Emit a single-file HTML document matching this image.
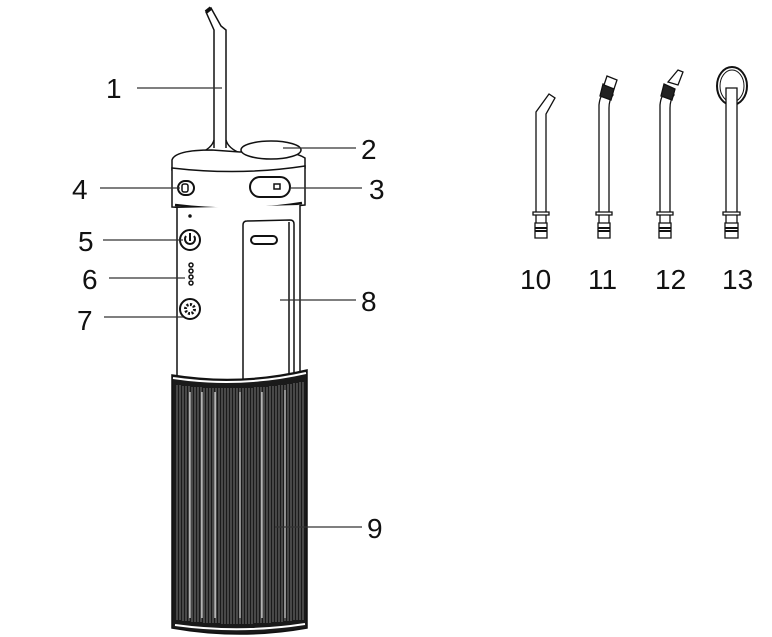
<!DOCTYPE html>
<html><head><style>
html,body{margin:0;padding:0;background:#fff;}
svg{display:block;}
text{font-family:"Liberation Sans",sans-serif;font-size:28px;fill:#111;}
</style></head><body>
<svg width="772" height="637" viewBox="0 0 772 637" xmlns="http://www.w3.org/2000/svg">
<g fill="none" stroke="#111" stroke-width="1.5">
<path d="M214,148 L214,30 L206,12 L211,8 L221,26 L226,30 L226,148" fill="#fff"/>
<path d="M206,12 L211,8" stroke-width="4"/>
<path d="M200,153 Q212,148 214,140 M240,153 Q228,148 226,140"/>
<path d="M172,160 Q175,150 212,150 L240,152 Q290,148 305,158 L305,168 Q240,178 172,170 Z" fill="#fff"/>
<ellipse cx="271" cy="150" rx="30" ry="9" fill="#fff"/>
<path d="M172,168 Q240,176 305,166 L305,205 Q240,212 172,207 Z" fill="#fff"/>
<path d="M175,205 Q240,213 302,203" stroke-width="2.5"/>
<rect x="178" y="181" width="16" height="14" rx="7" fill="#fff" stroke-width="2"/>
<rect x="182" y="184" width="6" height="8" rx="2"/>
<rect x="250" y="177" width="40" height="20" rx="10" fill="#fff" stroke-width="2"/>
<rect x="274" y="184" width="6" height="5"/>
<path d="M177,208 L177,380 L300,380 L300,205" fill="#fff"/>
<circle cx="190" cy="216" r="1" fill="#111"/>
<circle cx="190" cy="240" r="10" stroke-width="2"/>
<path d="M186,236 a5,5 0 1,0 8,0 M190,233 L190,241" stroke-width="2"/>
<circle cx="191" cy="265" r="2"/><circle cx="191" cy="271" r="2"/><circle cx="191" cy="277" r="2"/><circle cx="191" cy="283" r="2"/>
<circle cx="190" cy="309" r="10" stroke-width="2"/>
<circle cx="190" cy="309" r="4.5" stroke-width="3" stroke-dasharray="2 1.5"/>
<path d="M243,380 L243,225 Q243,221 247,221 L290,220 Q294,220 294,224 L294,378"/>
<path d="M289,222 L289,378"/>
<rect x="251" y="236" width="26" height="8" rx="4" stroke-width="2"/>
<path d="M172,375 Q240,386 307,370 L307,628 Q240,640 172,628 Z" fill="#1a1a1a"/>
<path d="M173,378 Q240,388 306,373" stroke="#fff" stroke-width="2"/>
<path d="M175,625 Q240,634 305,624" stroke="#fff" stroke-width="2"/>
<g stroke="#777" stroke-width="1">
<path d="M177,385V620M180,385V620M183,386V621M186,386V621M189,386V621M192,387V622M195,387V622M198,387V622M201,387V622M204,388V623M207,388V623M210,388V623M213,388V623M216,388V623M219,388V623M222,388V624M225,388V624M228,388V624M231,388V624M234,388V624M237,388V624M240,388V624M243,388V624M246,388V624M249,388V624M252,388V624M255,387V623M258,387V623M261,387V623M264,387V623M267,387V623M270,386V623M273,386V622M276,386V622M279,385V622M282,385V622M285,385V621M288,384V621M291,384V621M294,383V620M297,383V620M300,382V620M303,382V620"/>
</g>
<g stroke="#ddd" stroke-width="1.2"><path d="M215,392V618M202,392V618M262,392V618M285,390V618M190,392V618M240,392V618"/></g>
</g>
<g stroke="#333" stroke-width="1.2">
<line x1="137" y1="88" x2="222" y2="88"/>
<line x1="283" y1="148" x2="356" y2="148"/>
<line x1="290" y1="188" x2="362" y2="188"/>
<line x1="100" y1="188" x2="180" y2="188"/>
<line x1="103" y1="240" x2="183" y2="240"/>
<line x1="109" y1="278" x2="185" y2="278"/>
<line x1="104" y1="317" x2="183" y2="317"/>
<line x1="280" y1="300" x2="356" y2="300"/>
<line x1="275" y1="527" x2="362" y2="527"/>
</g>
<text x="106" y="98">1</text>
<text x="361" y="159">2</text>
<text x="369" y="199">3</text>
<text x="72" y="199">4</text>
<text x="78" y="251">5</text>
<text x="82" y="289">6</text>
<text x="77" y="330">7</text>
<text x="361" y="311">8</text>
<text x="367" y="538">9</text>
<g fill="#fff" stroke="#111" stroke-width="1.3">
<path d="M536,212 L536,112 L549,94 L555,98 L546,114 L546,212"/>
<path d="M533,212 h16 v3 h-16z M536,215 h10 v8 h-10z M535,223 h12 v15 h-12z"/>
<path d="M535,228h12 M535,231h12" stroke-width="2"/>
<path d="M599,212 L599,105 Q600,95 605,92 L613,95 Q609,100 609,108 L609,212"/>
<path d="M603,84 L614,89 L611,100 L600,96 Z" fill="#222"/>
<path d="M607,76 L617,80 L614,89 L604,85 Z"/>
<path d="M596,212 h16 v3 h-16z M599,215 h10 v8 h-10z M598,223 h12 v15 h-12z"/>
<path d="M598,228h12 M598,231h12" stroke-width="2"/>
<path d="M660,212 L660,105 Q661,95 666,92 L674,95 Q670,100 670,108 L670,212"/>
<path d="M664,84 L675,89 L672,100 L661,96 Z" fill="#222"/>
<path d="M668,82 L678,85 L683,72 L678,70 Z"/>
<path d="M657,212 h16 v3 h-16z M660,215 h10 v8 h-10z M659,223 h12 v15 h-12z"/>
<path d="M659,228h12 M659,231h12" stroke-width="2"/>
<ellipse cx="732" cy="86" rx="15" ry="19" fill="none" stroke-width="2"/>
<ellipse cx="732" cy="86" rx="12" ry="16" fill="none" stroke-width="1"/>
<path d="M726,212 L726,88 L737,88 L737,212"/>
<path d="M723,212 h17 v3 h-17z M726,215 h11 v8 h-11z M725,223 h13 v15 h-13z"/>
<path d="M725,228h13 M725,231h13" stroke-width="2"/>
</g>
<text x="520" y="289">10</text>
<text x="588" y="289">11</text>
<text x="655" y="289">12</text>
<text x="722" y="289">13</text>
</svg>
</body></html>
